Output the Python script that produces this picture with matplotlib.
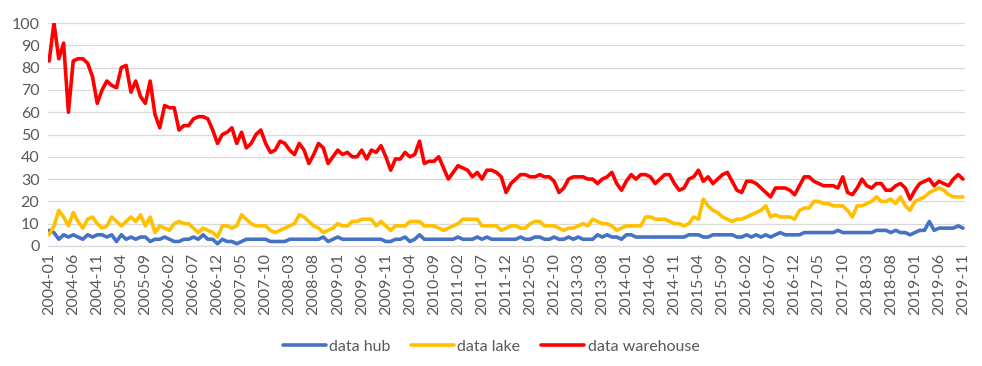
"""Monthly search interest: data hub vs data lake vs data warehouse (2004-01 .. 2019-11)."""

import matplotlib

matplotlib.use("Agg")
import matplotlib.pyplot as plt
import numpy as np
import pandas as pd

# Month range of the series
START_MONTH = "2004-01"
END_MONTH = "2019-11"

# Series values, one per month
data_hub = [
    7, 6, 3, 5, 4, 5, 4, 3, 5, 4,
    5, 5, 4, 5, 2, 5, 3, 4, 3, 4,
    4, 2, 3, 3, 4, 3, 2, 2, 3, 3,
    4, 3, 5, 3, 3, 1, 3, 2, 2, 1,
    2, 3, 3, 3, 3, 3, 2, 2, 2, 2,
    3, 3, 3, 3, 3, 3, 3, 4, 2, 3,
    4, 3, 3, 3, 3, 3, 3, 3, 3, 3,
    2, 2, 3, 3, 4, 2, 3, 5, 3, 3,
    3, 3, 3, 3, 3, 4, 3, 3, 3, 4,
    3, 4, 3, 3, 3, 3, 3, 3, 4, 3,
    3, 4, 4, 3, 3, 4, 3, 3, 4, 3,
    4, 3, 3, 3, 5, 4, 5, 4, 4, 3,
    5, 5, 4, 4, 4, 4, 4, 4, 4, 4,
    4, 4, 4, 5, 5, 5, 4, 4, 5, 5,
    5, 5, 5, 4, 4, 5, 4, 5, 4, 5,
    4, 5, 6, 5, 5, 5, 5, 6, 6, 6,
    6, 6, 6, 6, 7, 6, 6, 6, 6, 6,
    6, 6, 7, 7, 7, 6, 7, 6, 6, 5,
    6, 7, 7, 11, 7, 8, 8, 8, 8, 9,
    8,
]
data_lake = [
    5, 9, 16, 13, 9, 15, 11, 8, 12, 13,
    10, 8, 9, 13, 11, 9, 11, 13, 11, 14,
    9, 13, 6, 9, 8, 7, 10, 11, 10, 10,
    8, 6, 8, 7, 6, 4, 9, 9, 8, 9,
    14, 12, 10, 9, 9, 9, 7, 6, 7, 8,
    9, 10, 14, 13, 11, 9, 8, 6, 7, 8,
    10, 9, 9, 11, 11, 12, 12, 12, 9, 11,
    9, 7, 9, 9, 9, 11, 11, 11, 9, 9,
    9, 8, 7, 8, 9, 10, 12, 12, 12, 12,
    9, 9, 9, 9, 7, 8, 9, 9, 8, 8,
    10, 11, 11, 9, 9, 9, 8, 7, 8, 8,
    9, 10, 9, 12, 11, 10, 10, 9, 7, 8,
    9, 9, 9, 9, 13, 13, 12, 12, 12, 11,
    10, 10, 9, 10, 13, 12, 21, 18, 16, 15,
    13, 12, 11, 12, 12, 13, 14, 15, 16, 18,
    13, 14, 13, 13, 13, 12, 16, 17, 17, 20,
    20, 19, 19, 18, 18, 18, 16, 13, 18, 18,
    19, 20, 22, 20, 20, 21, 19, 22, 18, 16,
    20, 21, 22, 24, 25, 26, 25, 23, 22, 22,
    22,
]
data_warehouse = [
    83, 100, 84, 91, 60, 83, 84, 84, 82, 76,
    64, 70, 74, 72, 71, 80, 81, 69, 74, 67,
    64, 74, 59, 53, 63, 62, 62, 52, 54, 54,
    57, 58, 58, 57, 52, 46, 50, 51, 53, 46,
    51, 44, 46, 50, 52, 46, 42, 43, 47, 46,
    43, 41, 46, 43, 37, 41, 46, 44, 37, 40,
    43, 41, 42, 40, 40, 43, 39, 43, 42, 45,
    40, 34, 39, 39, 42, 40, 41, 47, 37, 38,
    38, 40, 35, 30, 33, 36, 35, 34, 31, 33,
    30, 34, 34, 33, 31, 24, 28, 30, 32, 32,
    31, 31, 32, 31, 31, 29, 24, 26, 30, 31,
    31, 31, 30, 30, 28, 30, 31, 33, 28, 25,
    29, 32, 30, 32, 32, 31, 28, 30, 32, 32,
    28, 25, 26, 30, 31, 34, 29, 31, 28, 30,
    32, 33, 29, 25, 24, 29, 29, 28, 26, 24,
    22, 26, 26, 26, 25, 23, 27, 31, 31, 29,
    28, 27, 27, 27, 26, 31, 24, 23, 26, 30,
    27, 26, 28, 28, 25, 25, 27, 28, 26, 21,
    25, 28, 29, 30, 27, 29, 28, 27, 30, 32,
    30,
]

series_names = ["data hub", "data lake", "data warehouse"]
series_colors = ["#4472C4", "#FFC000", "#FF0000"]

# Category labels, one every 5 months
months = pd.period_range(START_MONTH, END_MONTH, freq="M").strftime("%Y-%m").tolist()
label_step = 5

TEXT_COLOR = "#595959"
GRID_COLOR = "#D9D9D9"

plt.rcParams["font.family"] = ["Lato", "DejaVu Sans"]

fig = plt.figure(figsize=(9.82, 3.66), dpi=100)
ax = fig.add_axes([0.0486, 0.328, 0.934, 0.609])

x = np.arange(len(months))
for values, name, color in zip([data_hub, data_lake, data_warehouse], series_names, series_colors):
    ax.plot(
        x,
        values,
        color=color,
        linewidth=2.6,
        label=name,
        solid_joinstyle="round",
        solid_capstyle="round",
    )

# Axes styling (Excel-like)
ax.set_xlim(-0.3, len(months) - 0.6)
ax.set_ylim(0, 100)
ax.set_yticks(np.arange(0, 101, 10))
ax.set_xticks(x[::label_step])
ax.set_xticklabels(months[::label_step], rotation=90)
ax.tick_params(axis="both", length=0, labelsize=11.5, labelcolor=TEXT_COLOR)
ax.tick_params(axis="x", pad=5)
ax.tick_params(axis="y", pad=6)

ax.grid(axis="y", color=GRID_COLOR, linewidth=0.9)
ax.set_axisbelow(True)
for side in ["top", "right", "left"]:
    ax.spines[side].set_visible(False)
ax.spines["bottom"].set_color(GRID_COLOR)
ax.spines["bottom"].set_linewidth(0.9)

fig.legend(
    loc="center",
    bbox_to_anchor=(0.5, 0.053),
    ncol=3,
    frameon=False,
    fontsize=11.5,
    labelcolor=TEXT_COLOR,
    handlelength=2.7,
    handletextpad=0.2,
    columnspacing=1.3,
)

fig.savefig("out.png", dpi=100)
plt.close(fig)
